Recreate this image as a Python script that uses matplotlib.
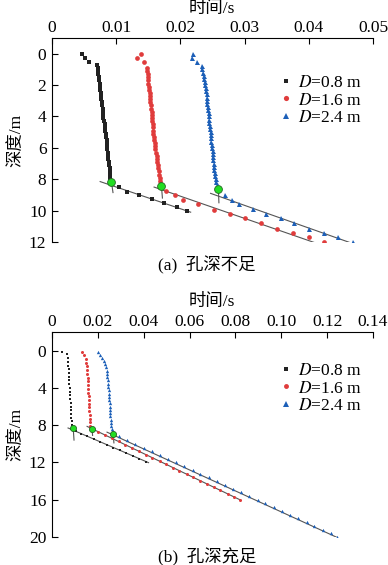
import matplotlib.pyplot as plt

plt.rcParams["font.family"] = ["Liberation Serif", "Noto Sans CJK SC"]
plt.rcParams["mathtext.fontset"] = "stix"

# ---- data, panel (a): hole depth insufficient ----
a_d08_depth = [0.0, 0.3, 0.5,
               0.7, 0.9, 1.1, 1.3, 1.5, 1.7, 1.9, 2.1, 2.3, 2.5, 2.7, 2.9, 3.1, 3.3, 3.5, 3.7, 3.9,
               4.1, 4.3, 4.5, 4.7, 4.9, 5.1, 5.3, 5.5, 5.7, 5.9, 6.1, 6.3, 6.5, 6.7, 6.9, 7.1, 7.3,
               7.5, 7.7, 7.9, 8.2,
               8.5, 8.8, 9.0, 9.25, 9.5, 9.8, 10.05]
a_d08_time = [0.0047, 0.0052, 0.0058,
              0.0070, 0.0071, 0.0071, 0.0072, 0.0073, 0.0073, 0.0074, 0.0075, 0.0075, 0.0076, 0.0076,
              0.0077, 0.0078, 0.0078, 0.0079, 0.0079, 0.0080, 0.0080, 0.0081, 0.0082, 0.0082, 0.0083,
              0.0084, 0.0084, 0.0085, 0.0085, 0.0086, 0.0086, 0.0087, 0.0088, 0.0088, 0.0089, 0.0089,
              0.0090, 0.0090, 0.0091, 0.0091, 0.0092,
              0.0105, 0.0117, 0.0135, 0.0155, 0.0174, 0.0194, 0.0211]

a_d16_depth = [0.0, 0.3, 0.55,
               0.9, 1.1, 1.3, 1.5, 1.7, 1.9, 2.1, 2.3, 2.5, 2.7, 2.9, 3.1, 3.3, 3.5, 3.7, 3.9, 4.1,
               4.3, 4.5, 4.7, 4.9, 5.1, 5.3, 5.5, 5.7, 5.9, 6.1, 6.3, 6.5, 6.7, 6.9, 7.1, 7.3, 7.5,
               7.7, 7.9, 8.1, 8.4,
               8.75, 9.0, 9.35, 9.6, 9.95, 10.2, 10.5, 10.8, 11.15, 11.4, 11.7, 12.0]
a_d16_time = [0.0138, 0.0133, 0.0144,
              0.0148, 0.0148, 0.0149, 0.0149, 0.0150, 0.0150, 0.0151, 0.0151, 0.0152, 0.0152,
              0.0153, 0.0153, 0.0154, 0.0154, 0.0155, 0.0155, 0.0156, 0.0156, 0.0157, 0.0157,
              0.0158, 0.0158, 0.0159, 0.0159, 0.0160, 0.0161, 0.0161, 0.0162, 0.0163, 0.0163,
              0.0164, 0.0165, 0.0165, 0.0166, 0.0167, 0.0168, 0.0169, 0.0170,
              0.0177, 0.0192, 0.0204, 0.0228, 0.0252, 0.0277, 0.0300, 0.0325, 0.0350, 0.0375,
              0.0400, 0.0424]

a_d24_depth = [0.0, 0.3, 0.5, 0.8,
               1.0, 1.2, 1.4, 1.6, 1.8, 2.0, 2.2, 2.4, 2.6, 2.8, 3.0, 3.2, 3.4, 3.6, 3.8, 4.0, 4.2,
               4.4, 4.6, 4.8, 5.0, 5.2, 5.4, 5.6, 5.8, 6.0, 6.2, 6.4, 6.6, 6.8, 7.0, 7.2, 7.4, 7.6,
               7.8, 8.0, 8.2, 8.4, 8.65,
               9.0, 9.35, 9.6, 9.9, 10.2, 10.5, 10.8, 11.15, 11.4, 11.7, 12.0]
a_d24_time = [0.0220, 0.0218, 0.0226, 0.0233,
              0.0234, 0.0235, 0.0236, 0.0237, 0.0238, 0.0239, 0.0240, 0.0240, 0.0241, 0.0241,
              0.0242, 0.0242, 0.0243, 0.0243, 0.0244, 0.0244, 0.0245, 0.0245, 0.0246, 0.0246,
              0.0247, 0.0247, 0.0248, 0.0248, 0.0249, 0.0249, 0.0250, 0.0250, 0.0251, 0.0251,
              0.0252, 0.0252, 0.0253, 0.0254, 0.0254, 0.0255, 0.0256, 0.0257, 0.0259,
              0.0270, 0.0281, 0.0291, 0.0313, 0.0334, 0.0356, 0.0377, 0.0400, 0.0423, 0.0445,
              0.0469]

# turning points (green) and fitted lines
a_turn_time = [0.0092, 0.0170, 0.0259]
a_turn_depth = [8.2, 8.4, 8.65]
a_fit_time = [[0.0075, 0.0216], [0.0159, 0.0431], [0.0247, 0.0472]]
a_fit_depth = [[8.15, 10.1], [8.5, 12.35], [8.9, 12.15]]
a_stub_time = [[0.0092, 0.0095], [0.0170, 0.0172], [0.0259, 0.0260]]
a_stub_depth = [[8.0, 8.85], [8.2, 9.2], [8.45, 9.5]]

# ---- data, panel (b): hole depth sufficient ----
b_d08_depth = [0.1, 0.4, 0.8, 1.2, 1.6, 2.0, 2.4, 2.8, 3.2, 3.6, 4.0, 4.4, 4.8, 5.2, 5.6, 6.0,
               6.4, 6.8, 7.2, 7.6, 8.0, 8.3,
               8.6, 8.9, 9.2, 9.5, 9.8, 10.1, 10.4, 10.7, 11.0, 11.3, 11.6, 11.9]
b_d08_time = [0.0044, 0.0065, 0.0068, 0.0070, 0.0071, 0.0072, 0.0073, 0.0074, 0.0075, 0.0076,
              0.0077, 0.0078, 0.0079, 0.0080, 0.0081, 0.0082, 0.0083, 0.0084, 0.0085, 0.0086,
              0.0087, 0.0092,
              0.0103, 0.0127, 0.0153, 0.0184, 0.0210, 0.0240, 0.0267, 0.0297, 0.0323, 0.0354,
              0.0380, 0.0411]

b_d16_depth = [0.1, 0.5, 0.9, 1.3, 1.7, 2.1, 2.5, 2.9, 3.3, 3.7, 4.1, 4.5, 4.9, 5.3, 5.7, 6.1,
               6.5, 6.9, 7.3, 7.7, 8.1, 8.4,
               8.7, 9.05, 9.4, 9.75, 10.1, 10.45, 10.8, 11.15, 11.5, 11.85, 12.2, 12.55, 12.9,
               13.25, 13.6, 13.95, 14.3, 14.65, 15.0, 15.35, 15.7, 16.0]
b_d16_time = [0.0131, 0.0140, 0.0147, 0.0150, 0.0152, 0.0153, 0.0154, 0.0155, 0.0156, 0.0157,
              0.0158, 0.0159, 0.0160, 0.0161, 0.0162, 0.0162, 0.0163, 0.0164, 0.0164, 0.0165,
              0.0166, 0.0174,
              0.0201, 0.0232, 0.0260, 0.0291, 0.0319, 0.0351, 0.0378, 0.0410, 0.0438, 0.0469,
              0.0497, 0.0529, 0.0556, 0.0588, 0.0616, 0.0647, 0.0675, 0.0707, 0.0734, 0.0766,
              0.0794, 0.0820]

b_d24_depth = [0.1, 0.45, 0.75, 1.1, 1.45, 1.8, 2.15, 2.5, 2.85, 3.2, 3.55, 3.9, 4.25, 4.6,
               4.95, 5.3, 5.65, 6.0, 6.35, 6.7, 7.05, 7.4, 7.75, 8.1, 8.45, 8.9,
               9.2, 9.6, 10.0, 10.4, 10.8, 11.2, 11.6, 12.0, 12.4, 12.8, 13.2, 13.6, 14.0, 14.4,
               14.8, 15.2, 15.6, 16.0, 16.4, 16.8, 17.2, 17.6, 18.0, 18.4, 18.8, 19.2, 19.6, 20.0]
b_d24_time = [0.0200, 0.0210, 0.0218, 0.0226, 0.0232, 0.0235, 0.0238, 0.0240, 0.0242, 0.0244,
              0.0245, 0.0246, 0.0247, 0.0248, 0.0249, 0.0250, 0.0251, 0.0252, 0.0253, 0.0254,
              0.0255, 0.0256, 0.0258, 0.0259, 0.0261, 0.0266,
              0.0293, 0.0329, 0.0363, 0.0400, 0.0434, 0.0471, 0.0505, 0.0542, 0.0576, 0.0613,
              0.0647, 0.0684, 0.0718, 0.0755, 0.0789, 0.0826, 0.0860, 0.0898, 0.0931, 0.0969,
              0.1002, 0.1040, 0.1073, 0.1111, 0.1144, 0.1182, 0.1215, 0.1245]

b_turn_time = [0.0092, 0.0174, 0.0266]
b_turn_depth = [8.3, 8.4, 8.9]
b_fit_time = [[0.0070, 0.0421], [0.0153, 0.0822], [0.0240, 0.1248]]
b_fit_depth = [[8.3, 12.02], [8.13, 16.03], [8.75, 20.1]]
b_stub_time = [[0.0092, 0.0096], [0.0174, 0.0177], [0.0266, 0.0270]]
b_stub_depth = [[8.1, 9.6], [8.2, 9.1], [8.7, 9.9]]

labels = ["$D$=0.8 m", "$D$=1.6 m", "$D$=2.4 m"]
colors = ["#222222", "#e03c3c", "#1c5fb8"]
markers = ["s", "o", "^"]

fig = plt.figure(figsize=(3.88, 5.65), dpi=100)
ax_a = fig.add_axes([52 / 388, 1 - 242 / 565, 321 / 388, 204 / 565])
ax_b = fig.add_axes([52 / 388, 1 - 537 / 565, 321 / 388, 205 / 565])


def draw_panel(ax, series, turn_t, turn_d, fit_t, fit_d, stub_t, stub_d, msizes):
    for (t, d), lab, c, m, ms in zip(series, labels, colors, markers, msizes):
        ax.plot(t, d, linestyle="none", marker=m, color=c, markersize=ms,
                markeredgewidth=0, label=lab, zorder=3)
    for ft, fd in zip(fit_t, fit_d):
        ax.plot(ft, fd, color="#555555", linewidth=0.8, zorder=2)
    for st, sd in zip(stub_t, stub_d):
        ax.plot(st, sd, color="#555555", linewidth=0.8, zorder=2)
    ax.plot(turn_t, turn_d, linestyle="none", marker="o", markersize=max(msizes) + 2,
            markerfacecolor="#22dd22", markeredgecolor="#226622", markeredgewidth=0.6,
            zorder=4)
    ax.spines["right"].set_visible(False)
    ax.spines["bottom"].set_visible(False)
    ax.xaxis.tick_top()
    ax.tick_params(direction="in", length=4, width=0.8, labelsize=12.5,
                   top=True, bottom=False, right=False)
    ax.tick_params(axis="x", pad=1.5)
    ax.tick_params(axis="y", pad=4)
    ax.set_ylabel("深度/m", fontsize=12.5, labelpad=3)


draw_panel(ax_a, [(a_d08_time, a_d08_depth), (a_d16_time, a_d16_depth),
                  (a_d24_time, a_d24_depth)],
           a_turn_time, a_turn_depth, a_fit_time, a_fit_depth, a_stub_time, a_stub_depth,
           [3.0, 3.4, 3.6])
ax_a.set_xlim(0, 0.05)
ax_a.set_ylim(12, -1)
ax_a.set_xticks([0, 0.01, 0.02, 0.03, 0.04, 0.05])
ax_a.set_xticklabels(["0", "0.01", "0.02", "0.03", "0.04", "0.05"])
ax_a.set_yticks([0, 2, 4, 6, 8, 10, 12])
ax_a.legend(loc="upper left", bbox_to_anchor=(0.69, 0.855), frameon=False, fontsize=12.5,
            handlelength=0.6, handletextpad=0.4, labelspacing=0.1, borderaxespad=0,
            markerscale=1.1)

draw_panel(ax_b, [(b_d08_time, b_d08_depth), (b_d16_time, b_d16_depth),
                  (b_d24_time, b_d24_depth)],
           b_turn_time, b_turn_depth, b_fit_time, b_fit_depth, b_stub_time, b_stub_depth,
           [2.1, 2.2, 2.4])
ax_b.set_xlim(0, 0.14)
ax_b.set_ylim(20, -2)
ax_b.set_xticks([0, 0.02, 0.04, 0.06, 0.08, 0.10, 0.12, 0.14])
ax_b.set_xticklabels(["0", "0.02", "0.04", "0.06", "0.08", "0.10", "0.12", "0.14"])
ax_b.set_yticks([0, 4, 8, 12, 16, 20])
ax_b.legend(loc="upper left", bbox_to_anchor=(0.69, 0.885), frameon=False, fontsize=12.5,
            handlelength=0.6, handletextpad=0.4, labelspacing=0.1, borderaxespad=0,
            markerscale=1.6)

fig.text(212 / 388, 1 - 9 / 565, "时间/s", ha="center", va="center", fontsize=12.5)
fig.text(212 / 388, 1 - 302 / 565, "时间/s", ha="center", va="center", fontsize=12.5)
fig.text(207 / 388, 1 - 265 / 565, "(a)  孔深不足", ha="center", va="center", fontsize=12.5)
fig.text(207 / 388, 1 - 557 / 565, "(b)  孔深充足", ha="center", va="center", fontsize=12.5)

fig.savefig("out.png", dpi=100)
